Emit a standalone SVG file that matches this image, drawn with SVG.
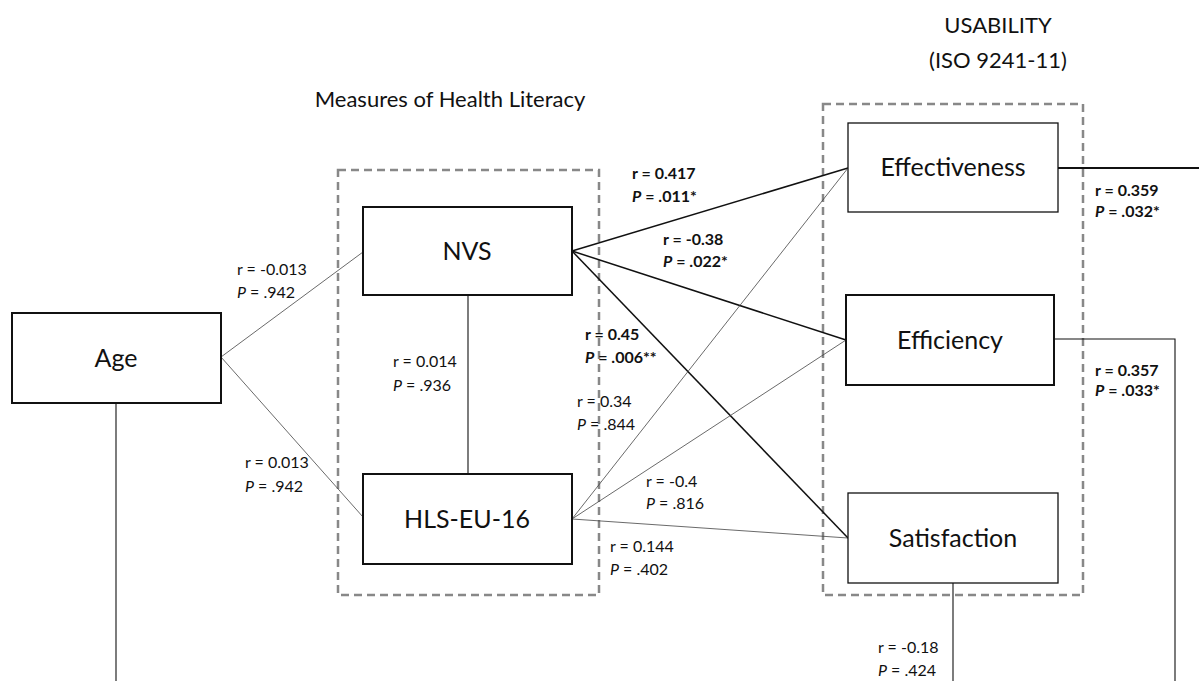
<svg xmlns="http://www.w3.org/2000/svg" width="1199" height="681" viewBox="0 0 1199 681">
<style>
.box{fill:#fff;stroke:#111;stroke-width:2}
.box2{fill:#fff;stroke:#111;stroke-width:1.3}
.nl{font-family:Lato,"Open Sans",sans-serif;font-size:25px;fill:#111;text-anchor:middle}
.t{font-family:Lato,"Open Sans",sans-serif;font-size:22px;fill:#111;text-anchor:middle}
.l{font-family:Lato,"Open Sans",sans-serif;font-size:16px;fill:#111}
.b{font-weight:bold}
.grp{fill:none;stroke:#888;stroke-width:2.5;stroke-dasharray:8 5}
.thick{stroke:#111;stroke-width:1.5;fill:none}
.thin{stroke:#444;stroke-width:0.8;fill:none}
.mid{stroke:#111;stroke-width:1.1;fill:none}
</style>
<rect width="1199" height="681" fill="#fff"/>
<g id="titles">
<text class="t" x="998" y="33">USABILITY</text>
<text class="t" x="998" y="68">(ISO 9241-11)</text>
<text class="t" x="450" y="107">Measures of Health Literacy</text>
</g>
<g id="groups">
<rect class="grp" x="338" y="170" width="261" height="425"/>
<rect class="grp" x="823" y="104" width="260" height="491"/>
</g>
<g id="connectors">
<line class="thin" x1="221" y1="357" x2="363" y2="252"/>
<line class="thin" x1="221" y1="357" x2="363" y2="517"/>
<line class="mid" x1="116" y1="403" x2="116" y2="681"/>
<line class="mid" x1="468" y1="295" x2="468" y2="474"/>
<line class="thick" x1="572" y1="251" x2="848" y2="168"/>
<line class="thick" x1="572" y1="251" x2="846" y2="340"/>
<line class="thick" x1="572" y1="251" x2="848" y2="538"/>
<line class="thin" x1="572" y1="519" x2="848" y2="168"/>
<line class="thin" x1="572" y1="519" x2="846" y2="340"/>
<line class="thin" x1="572" y1="519" x2="848" y2="538"/>
<line class="thick" x1="1058" y1="168" x2="1199" y2="168" style="stroke-width:2"/>
<polyline class="mid" points="1054,339 1175,339 1175,681"/>
<line class="mid" x1="953" y1="583" x2="953" y2="681"/>
</g>
<g id="labels">
<text class="l" x="237" y="275">r = -0.013</text>
<text class="l" x="237" y="298"><tspan font-style="italic">P</tspan> = .942</text>
<text class="l" x="245" y="468">r = 0.013</text>
<text class="l" x="245" y="492"><tspan font-style="italic">P</tspan> = .942</text>
<text class="l" x="393" y="367">r = 0.014</text>
<text class="l" x="393" y="391"><tspan font-style="italic">P</tspan> = .936</text>
<text class="l b" x="632" y="179">r = 0.417</text>
<text class="l b" x="632" y="202"><tspan font-style="italic">P</tspan> = .011*</text>
<text class="l b" x="663" y="245">r = -0.38</text>
<text class="l b" x="663" y="267"><tspan font-style="italic">P</tspan> = .022*</text>
<text class="l b" x="585" y="340">r = 0.45</text>
<text class="l b" x="585" y="363"><tspan font-style="italic">P</tspan> = .006**</text>
<text class="l" x="577" y="407">r = 0.34</text>
<text class="l" x="577" y="430"><tspan font-style="italic">P</tspan> = .844</text>
<text class="l" x="646" y="487">r = -0.4</text>
<text class="l" x="646" y="509"><tspan font-style="italic">P</tspan> = .816</text>
<text class="l" x="610" y="552">r = 0.144</text>
<text class="l" x="610" y="575"><tspan font-style="italic">P</tspan> = .402</text>
<text class="l b" x="1095" y="196">r = 0.359</text>
<text class="l b" x="1095" y="217"><tspan font-style="italic">P</tspan> = .032*</text>
<text class="l b" x="1095" y="376">r = 0.357</text>
<text class="l b" x="1095" y="396"><tspan font-style="italic">P</tspan> = .033*</text>
<text class="l" x="878" y="653">r = -0.18</text>
<text class="l" x="878" y="676"><tspan font-style="italic">P</tspan> = .424</text>
</g>
<g id="age"><rect class="box" x="12" y="313" width="209" height="90"/><text class="nl" x="116" y="367">Age</text></g>
<g id="nvs"><rect class="box" x="363" y="207" width="209" height="88"/><text class="nl" x="467" y="260">NVS</text></g>
<g id="hls"><rect class="box" x="363" y="474" width="209" height="90"/><text class="nl" x="467" y="528">HLS-EU-16</text></g>
<g id="effectiveness"><rect class="box2" x="848" y="123" width="210" height="89"/><text class="nl" x="953" y="176">Effectiveness</text></g>
<g id="efficiency"><rect class="box" x="846" y="295" width="208" height="90"/><text class="nl" x="950" y="349">Efficiency</text></g>
<g id="satisfaction"><rect class="box2" x="848" y="493" width="210" height="90"/><text class="nl" x="953" y="547">Satisfaction</text></g>
</svg>
